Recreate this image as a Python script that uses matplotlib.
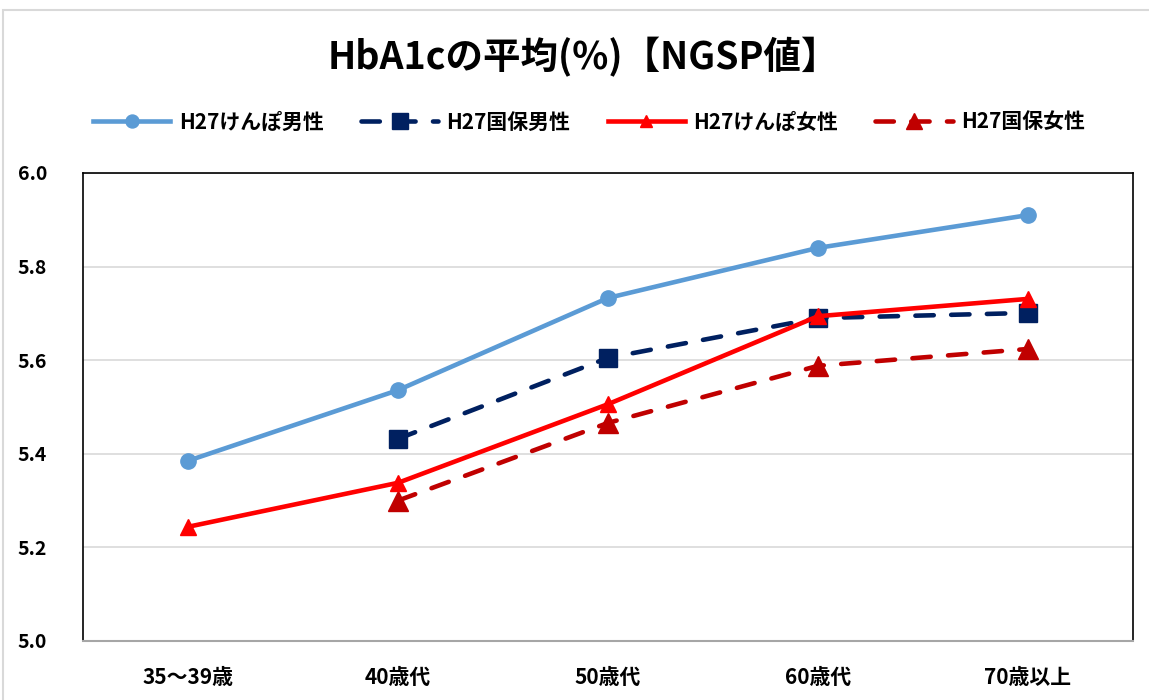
import matplotlib.pyplot as plt
from matplotlib.patches import Rectangle

plt.rcParams['font.family'] = ['Noto Sans CJK JP', 'DejaVu Sans']

ages = ['35～39歳', '40歳代', '50歳代', '60歳代', '70歳以上']
kenpo_male = [5.385, 5.536, 5.733, 5.840, 5.910]
kokuho_male = [None, 5.432, 5.605, 5.690, 5.701]
kenpo_female = [5.244, 5.338, 5.506, 5.694, 5.731]
kokuho_female = [None, 5.300, 5.466, 5.588, 5.624]

fig = plt.figure(figsize=(11.49, 7.0), dpi=100)
ax = fig.add_axes([83 / 1149, 1 - 641 / 700, 1050 / 1149, 468 / 700])

# chart frame
fig.patches.append(Rectangle((3 / 1149, -0.1), 1.2, (700 - 10) / 700 + 0.1,
                             transform=fig.transFigure, fill=False,
                             edgecolor='#d9d9d9', linewidth=1.5))

x = list(range(len(ages)))

def pts(vals):
    xs = [i for i, v in zip(x, vals) if v is not None]
    ys = [v for v in vals if v is not None]
    return xs, ys

xs, ys = pts(kenpo_male)
ax.plot(xs, ys, color='#5b9bd5', lw=3.3, marker='o', ms=11,
        label='H27けんぽ男性', zorder=3)
xs, ys = pts(kokuho_male)
ax.plot(xs, ys, color='#002060', lw=3.3, marker='s', ms=13,
        dashes=(4.0, 3.8), dash_capstyle='round',
        label='H27国保男性', zorder=3)
xs, ys = pts(kenpo_female)
ax.plot(xs, ys, color='#ff0000', lw=3.3, marker='^', ms=11,
        label='H27けんぽ女性', zorder=4)
xs, ys = pts(kokuho_female)
ax.plot(xs, ys, color='#c00000', lw=3.3, marker='^', ms=14,
        dashes=(4.0, 3.8), dash_capstyle='round',
        label='H27国保女性', zorder=3)

ax.set_xlim(-0.5, 4.5)
ax.set_ylim(5.0, 6.0)
ax.set_yticks([5.0, 5.2, 5.4, 5.6, 5.8, 6.0])
ax.set_yticklabels(['%.1f' % v for v in [5.0, 5.2, 5.4, 5.6, 5.8, 6.0]],
                   fontsize=14, fontweight='bold')
ax.set_xticks(x)
ax.set_xticklabels(ages, fontsize=15, fontweight='bold')
ax.tick_params(length=0)
ax.tick_params(axis='x', pad=19)
ax.tick_params(axis='y', pad=26)
ax.grid(axis='y', color='#d9d9d9', lw=1.2)
ax.set_axisbelow(True)
for side in ['left', 'top', 'right']:
    ax.spines[side].set_color('black')
    ax.spines[side].set_linewidth(1.2)
ax.spines['bottom'].set_color('#a6a6a6')
ax.spines['bottom'].set_linewidth(1.5)

fig.text(583 / 1149, 1 - 57 / 700, 'HbA1cの平均(%)【NGSP値】',
         ha='center', va='center', fontsize=27, fontweight='bold')

fig.legend(loc='center', bbox_to_anchor=(589 / 1149, 1 - 122 / 700),
           ncol=4, frameon=False, handlelength=3.7, columnspacing=1.8,
           handletextpad=0.4, markerscale=0.85,
           prop={'size': 15, 'weight': 'bold'})

fig.savefig('out.png', dpi=100)
